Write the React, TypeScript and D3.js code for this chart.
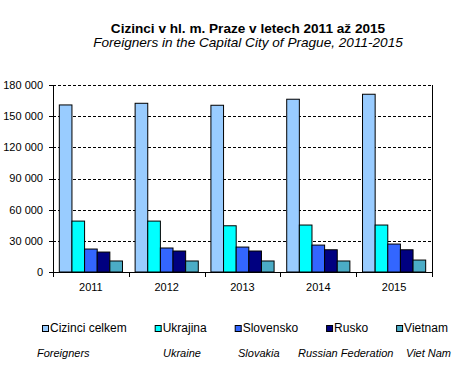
import * as d3 from "d3";
import { useRef, useEffect } from "react";

const years = ["2011", "2012", "2013", "2014", "2015"];
const seriesCz = ["Cizinci celkem", "Ukrajina", "Slovensko", "Rusko", "Vietnam"];
const seriesEn = ["Foreigners", "Ukraine", "Slovakia", "Russian Federation", "Viet Nam"];
const colors = ["#99CCFF", "#00FFFF", "#3366FF", "#000080", "#4BACC6"];

const celkem = [160800, 162400, 160500, 166300, 171100];
const ukrajina = [49000, 49000, 44500, 45200, 45200];
const slovensko = [22100, 23100, 24000, 25900, 26900];
const rusko = [19200, 20200, 20200, 21400, 21400];
const vietnam = [10600, 10600, 10600, 10600, 11500];

const values = [celkem, ukrajina, slovensko, rusko, vietnam];
const yTicks = [0, 30000, 60000, 90000, 120000, 150000, 180000];

const W = 472;
const H = 388;
const margin = { top: 85, right: 40, bottom: 116, left: 53 };

const enX = [37, 163, 238, 298, 406];

export default function App() {
  const legendRef = useRef<SVGGElement>(null);

  const x = d3.scaleBand().domain(years).range([margin.left, W - margin.right]).padding(0);
  const xi = d3.scaleBand().domain(seriesCz).range([0, x.bandwidth()]).paddingInner(0).paddingOuter(0.5);
  const y = d3.scaleLinear().domain([0, 180000]).range([H - margin.bottom, margin.top]);
  const fmt = d3.formatLocale({ decimal: ",", thousands: " ", grouping: [3], currency: ["", ""] }).format(",");

  const x0 = margin.left;
  const x1 = W - margin.right;
  const yBase = y(0);

  useEffect(() => {
    const g = d3.select(legendRef.current);
    let cx = 42;
    g.selectAll<SVGGElement, string>("g.item").each(function () {
      const item = d3.select(this);
      item.attr("transform", `translate(${cx},0)`);
      const t = item.select<SVGTextElement>("text").node();
      const w = t ? t.getComputedTextLength() : 0;
      cx += 8 + w + 28;
    });
  }, []);

  return (
    <svg width={W} height={H} style={{ position: "absolute", left: 0, top: 0, background: "#fff" }}
      fontFamily="'Liberation Sans', Arial, sans-serif">
      <text x={248} y={33} textAnchor="middle" fontWeight="bold" fontSize={13.6}>
        Cizinci v hl. m. Praze v letech 2011 až 2015
      </text>
      <text x={248} y={47} textAnchor="middle" fontStyle="italic" fontSize={13.6}>
        Foreigners in the Capital City of Prague, 2011-2015
      </text>

      {/* gridlines */}
      {yTicks.filter(d => d > 0).map(d => (
        <line key={d} x1={x0} x2={x1} y1={Math.round(y(d)) + 0.5} y2={Math.round(y(d)) + 0.5}
          stroke="#000" strokeDasharray="3,2" />
      ))}

      {/* bars */}
      {years.map((yr, i) => (
        <g key={yr} transform={`translate(${x(yr)},0)`}>
          {seriesCz.map((s, j) => (
            <rect key={s} x={xi(s)} width={xi.bandwidth()} y={y(values[j][i])}
              height={yBase - y(values[j][i])} fill={colors[j]} stroke="#000" strokeWidth={1} />
          ))}
        </g>
      ))}

      {/* right border */}
      <line x1={x1 + 0.5} x2={x1 + 0.5} y1={margin.top} y2={yBase} stroke="#000" />

      {/* y axis */}
      <line x1={x0 + 0.5} x2={x0 + 0.5} y1={margin.top} y2={yBase + 4} stroke="#000" />
      {yTicks.map(d => (
        <g key={d}>
          <line x1={x0 - 4} x2={x0} y1={Math.round(y(d)) + 0.5} y2={Math.round(y(d)) + 0.5} stroke="#000" />
          <text x={x0 - 10} y={y(d)} dy="0.35em" textAnchor="end" fontSize={11}>{fmt(d)}</text>
        </g>
      ))}

      {/* x axis */}
      <line x1={x0} x2={x1 + 1} y1={Math.round(yBase) + 0.5} y2={Math.round(yBase) + 0.5} stroke="#000" />
      {years.map(yr => (
        <g key={yr}>
          <line x1={Math.round(x(yr)!) + 0.5} x2={Math.round(x(yr)!) + 0.5} y1={yBase} y2={yBase + 5} stroke="#000" />
          <text x={x(yr)! + x.bandwidth() / 2} y={yBase + 19} textAnchor="middle" fontSize={11}>{yr}</text>
        </g>
      ))}
      <line x1={x1 + 0.5} x2={x1 + 0.5} y1={yBase} y2={yBase + 5} stroke="#000" />

      {/* legend */}
      <g ref={legendRef} transform="translate(0,325)">
        {seriesCz.map((s, j) => (
          <g key={s} className="item">
            <rect x={0.5} y={0.5} width={6} height={6} fill={colors[j]} stroke="#000" strokeWidth={1} />
            <text x={8} y={7} fontSize={12}>{s}</text>
          </g>
        ))}
      </g>
      {seriesEn.map((s, j) => (
        <text key={s} x={enX[j]} y={357} fontSize={11} fontStyle="italic">{s}</text>
      ))}
    </svg>
  );
}
